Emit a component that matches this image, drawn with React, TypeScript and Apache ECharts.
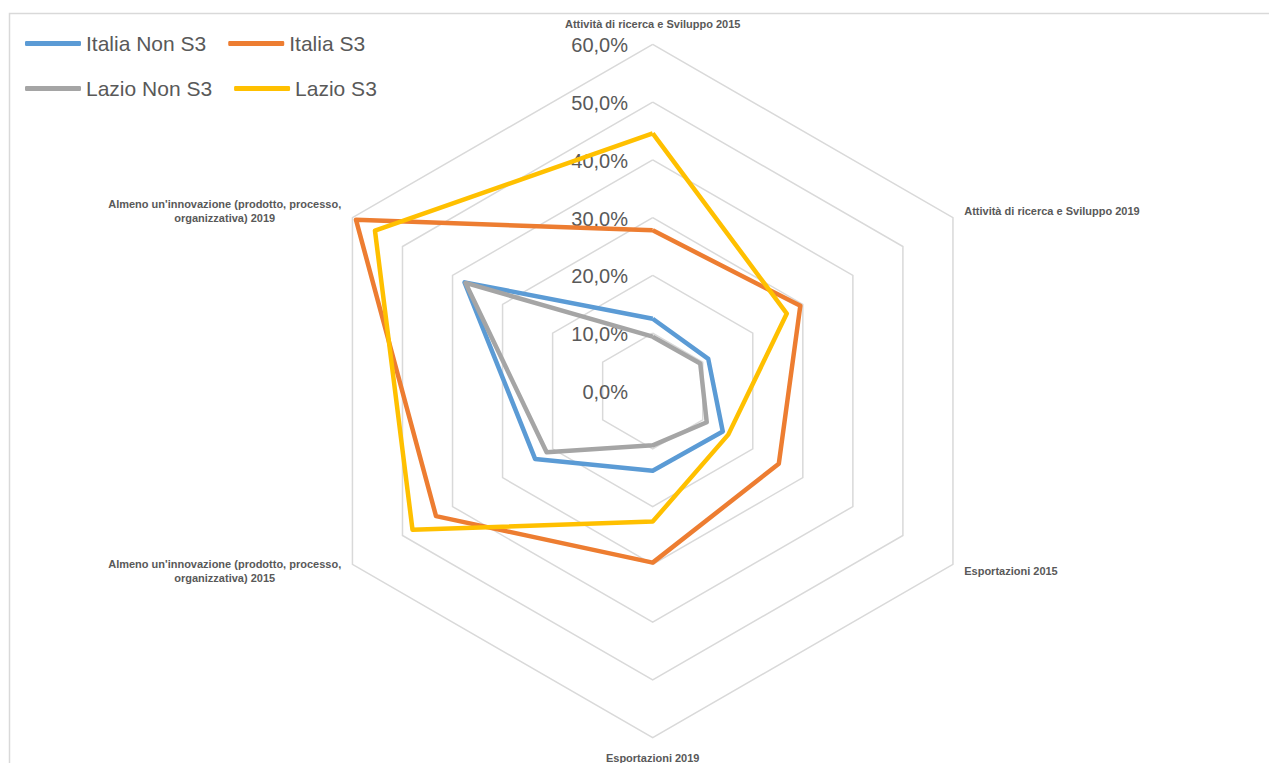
import React, { useEffect, useRef } from 'react';
import * as echarts from 'echarts';

// Categories (reference order, clockwise from top)
const indicators = [
  'Attività di ricerca e Sviluppo 2015',
  'Attività di ricerca e Sviluppo 2019',
  'Esportazioni 2015',
  'Esportazioni 2019',
  "Almeno un'innovazione (prodotto, processo,\norganizzativa) 2015",
  "Almeno un'innovazione (prodotto, processo,\norganizzativa) 2019",
];

const seriesNames = ['Italia Non S3', 'Italia S3', 'Lazio Non S3', 'Lazio S3'];
const italiaNonS3 = [12.5, 11.1, 14.0, 13.8, 23.5, 37.6];
const italiaS3 = [27.8, 29.5, 25.2, 29.7, 43.3, 59.3];
const lazioNonS3 = [9.4, 9.5, 10.8, 9.4, 21.2, 37.4];
const lazioS3 = [44.6, 26.8, 15.1, 22.6, 48.0, 55.5];
const seriesColors = ['#5B9BD5', '#ED7D31', '#A5A5A5', '#FFC000'];

const tickValues = [0, 10, 20, 30, 40, 50, 60];
const axisMax = 60;

// ECharts lays indicators counter-clockwise; reorder to clockwise
const order = [0, 5, 4, 3, 2, 1];
const reorder = <T,>(arr: T[]) => order.map((i) => arr[i]);

const FONT = '"Liberation Sans", Arial, sans-serif';
const fmtPct = (v: number) => v.toFixed(1).replace('.', ',') + '%';

export default function App() {
  const ref = useRef<HTMLDivElement>(null);

  useEffect(() => {
    if (!ref.current) return;
    const chart = echarts.init(ref.current, undefined, { renderer: 'svg' });
    const allSeries = [italiaNonS3, italiaS3, lazioNonS3, lazioS3];

    chart.setOption({
      animation: false,
      backgroundColor: '#ffffff',
      legend: {
        left: 25,
        top: 32,
        width: 400,
        padding: 0,
        itemGap: 22,
        itemWidth: 56,
        itemHeight: 5,
        icon: 'roundRect',
        data: seriesNames,
        textStyle: {
          color: '#595959',
          fontSize: 21,
          fontFamily: FONT,
          lineHeight: 23,
        },
      },
      radar: {
        center: [652.7, 391],
        radius: 346.7,
        shape: 'polygon',
        splitNumber: tickValues.length - 1,
        axisNameGap: 13,
        indicator: reorder(indicators).map((name) => ({ name, min: 0, max: axisMax })),
        axisName: {
          color: '#595959',
          fontSize: 11,
          fontWeight: 'bold',
          fontFamily: FONT,
          formatter: (name: string) =>
            name
              .split('\n')
              .map((l) => `{a|${l}}`)
              .join('\n'),
          rich: {
            a: {
              align: 'center',
              fontSize: 11,
              fontWeight: 'bold',
              color: '#595959',
              fontFamily: FONT,
              lineHeight: 14.5,
            },
          },
        },
        axisLine: { show: false },
        axisTick: { show: false },
        axisLabel: { show: false },
        splitArea: { show: false },
        splitLine: { lineStyle: { color: '#d9d9d9', width: 1.5 } },
      },
      series: [
        {
          type: 'radar',
          symbol: 'none',
          data: allSeries.map((vals, i) => ({
            name: seriesNames[i],
            value: reorder(vals),
            lineStyle: { color: seriesColors[i], width: 4.5, join: 'round' },
            itemStyle: { color: seriesColors[i] },
          })),
        },
      ],
    });

    const radarCS = (chart as any).getModel().getComponent('radar', 0).coordinateSystem;
    const tickTexts = tickValues.map((v) => {
      const p = radarCS.dataToPoint(v, 0);
      return {
        type: 'text',
        x: p[0] - 24.7,
        y: p[1] + 1,
        style: {
          text: fmtPct(v),
          align: 'right',
          verticalAlign: 'middle',
          fill: '#595959',
          fontSize: 20,
          fontFamily: FONT,
        },
      };
    });

    chart.setOption({
      graphic: [
        {
          type: 'rect',
          shape: { x: 9.5, y: 13.5, width: 1300, height: 800 },
          style: { fill: 'none', stroke: '#d9d9d9', lineWidth: 1.5 },
          silent: true,
        },
        ...tickTexts,
      ],
    });

    return () => chart.dispose();
  }, []);

  return (
    <div
      ref={ref}
      style={{ position: 'fixed', left: 0, top: 0, width: 1269, height: 763, background: '#fff' }}
    />
  );
}
